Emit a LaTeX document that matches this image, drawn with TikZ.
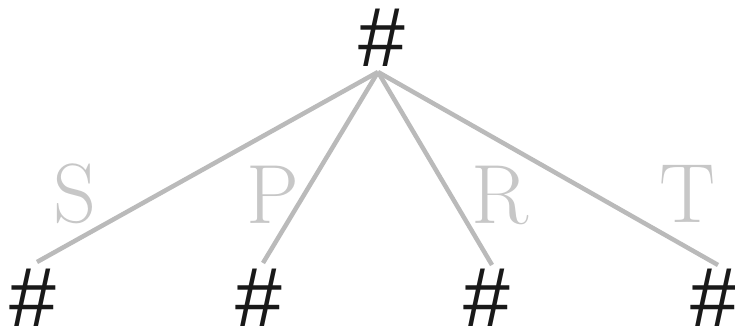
\documentclass[tikz,border=0pt]{standalone}
\usepackage{fontspec}
\newfontfamily\hashfont{Liberation Sans}
\begin{document}
\begin{tikzpicture}[x=1pt,y=1pt,
  hash/.style={inner sep=0pt, font=\hashfont\fontsize{84}{84}\selectfont, text=black!90},
  lab/.style={inner sep=0pt, font=\fontsize{84}{84}\selectfont, text=black!22},
  edge/.style={draw=black!27, line width=4.5pt}]
\useasboundingbox (0,0) rectangle (735,328);
\node[hash] (top) at (382,290) {\#};
\node[hash] (b1) at (33,30) {\#};
\node[hash] (b2) at (259,30) {\#};
\node[hash] (b3) at (487,30) {\#};
\node[hash] (b4) at (714,30) {\#};
\coordinate (apex) at (378,256);
\coordinate (e1) at (37,66);
\coordinate (e2) at (263,65);
\coordinate (e3) at (492,63);
\coordinate (e4) at (718,63);
\draw[edge] (apex) -- (e1);
\draw[edge] (apex) -- (e2);
\draw[edge] (apex) -- (e3);
\draw[edge] (apex) -- (e4);
\node[lab] (S) at (75,134) {S};
\node[lab] (P) at (273,133) {P};
\node[lab] (R) at (500,133) {R};
\node[lab] (T) at (688,134) {T};
\end{tikzpicture}
\end{document}
